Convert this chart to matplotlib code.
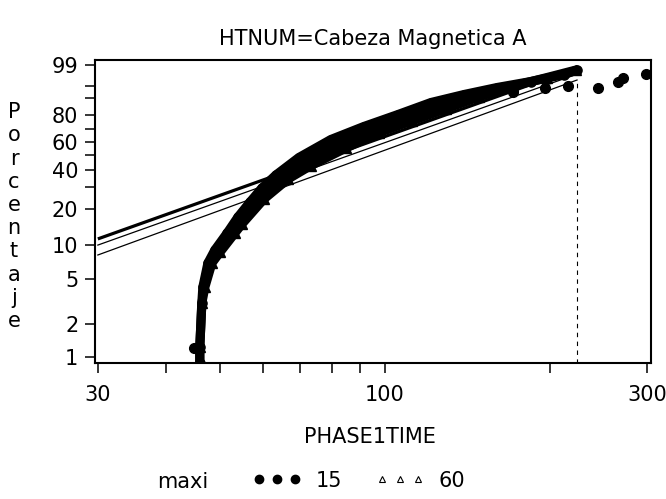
import matplotlib
matplotlib.use("Agg")
import matplotlib.pyplot as plt
from matplotlib.lines import Line2D
import numpy as np

plt.rcParams['font.family'] = ['DejaVu Sans']

# empirical distribution of PHASE1TIME, one band per maxi group
t15 = [46.0, 46.0, 46.4, 46.6, 47.6, 49.0, 51.6, 54.0, 56.8, 59.7, 63.3,
       69.7, 79.7, 91.5, 105.6, 121.3, 139.3, 160.0, 184.5, 211.8, 223.8]
p15 = [0.883, 1.23, 3.08, 4.28, 6.97, 9.06, 12.69, 17.29, 22.9, 29.45, 36.76,
       48.39, 61.90, 71.85, 80.41, 87.73, 91.63, 94.35, 96.16, 97.70, 98.42]

t60 = [46.0, 46.0, 46.4, 47.0, 48.4, 50.1, 53.3, 54.9, 60.2, 66.6, 73.3,
       84.9, 97.5, 112.0, 129.1, 148.3, 171.1, 197.3, 222.8]
p60 = [0.883, 1.23, 3.08, 4.28, 6.97, 8.71, 12.69, 15.13, 24.19, 34.38, 42.83,
       55.39, 67.22, 76.04, 84.08, 90.55, 94.85, 97.11, 98.42]

# single observations standing off the band
extra_time = [44.9, 142.8, 171.1, 195.6, 215.4, 244.3, 265.7, 271.3, 298.8]
extra_pct = [1.21, 90.5, 92.67, 94.2, 94.85, 94.18, 96.02, 97.0, 97.79]

# fitted Weibull lines (end points)
fit_time = [30, 223.8]
fit_main = [11.3, 98.68]
fit_lo1 = [10.0, 97.79]
fit_lo2 = [8.2, 96.54]

ref_time = 223.8
ref_top = 96.5

x_major = [30, 100, 300]
x_minor = [40, 50, 60, 70, 80, 90, 200]
y_major = [1, 2, 5, 10, 20, 40, 60, 80, 99]
y_minor = [30, 50, 70, 90, 95]


def weib_fwd(p):
    q = np.clip(np.asarray(p, dtype=float) / 100.0, 1e-9, 1 - 1e-9)
    return np.log(-np.log(1 - q))


def weib_inv(w):
    return 100.0 * (1 - np.exp(-np.exp(np.asarray(w, dtype=float))))


fig = plt.figure(figsize=(6.66, 4.99), dpi=100)
ax = fig.add_axes([0.1426, 0.2725, 0.8348, 0.6072])
ax.set_xscale('log')
ax.set_yscale('function', functions=(weib_fwd, weib_inv))

# fitted lines
ax.plot(fit_time, fit_main, color='black', lw=2.3, solid_capstyle='butt')
ax.plot(fit_time, fit_lo1, color='black', lw=0.9)
ax.plot(fit_time, fit_lo2, color='black', lw=0.9)

# reference line at the largest observation
ax.plot([ref_time, ref_time], [0.5, ref_top], color='black', lw=0.8,
        dashes=(4, 4))

# dense bands of points; the overlap between the groups is solid
ax.fill(t15 + t60[::-1], p15 + p60[::-1], color='black', lw=0)
for tt, pp, mk in [(t60, p60, '^'), (t15, p15, 'o')]:
    ax.plot(tt, pp, color='black', lw=6.6, solid_capstyle='round',
            solid_joinstyle='round')
    ax.plot(tt, pp, mk, color='black', ms=6.6)
ax.plot(extra_time, extra_pct, 'o', color='black', ms=7)

ax.set_xlim(29.64, 305.1)
ax.set_ylim(0.883, 99.40)

ax.set_xticks(x_major)
ax.set_xticklabels([str(v) for v in x_major])
ax.set_xticks(x_minor, minor=True)
ax.set_xticklabels([], minor=True)
ax.set_yticks(y_major)
ax.set_yticklabels([str(v) for v in y_major])
ax.set_yticks(y_minor, minor=True)
ax.set_yticklabels([], minor=True)

ax.tick_params(which='both', direction='out', length=7, width=1.1,
               labelsize=15, pad=5)
ax.tick_params(axis='x', which='major', pad=9)
for s in ax.spines.values():
    s.set_linewidth(1.5)

fig.text(0.56, 0.922, 'HTNUM=Cabeza Magnetica A', ha='center', va='center',
         fontsize=15)
fig.text(0.555, 0.125, 'PHASE1TIME', ha='center', va='center', fontsize=15)
fig.text(0.021, 0.566, '\n'.join('Porcentaje'), ha='center', va='center',
         fontsize=15, linespacing=1.2)

# group legend
fig.text(0.275, 0.035, 'maxi', ha='center', va='center', fontsize=15)
h15 = Line2D([], [], ls='none', marker='o', color='black', ms=6)
h60 = Line2D([], [], ls='none', marker='^', mfc='none', mec='black', ms=5,
             mew=0.8)
fig.legend(handles=[h15, h60], labels=['15', '60'], ncol=2, numpoints=3,
           frameon=False, fontsize=15, loc='center',
           bbox_to_anchor=(0.539, 0.037), handlelength=2.33,
           handletextpad=0.67, columnspacing=1.63)

fig.savefig('out.png', dpi=100)
